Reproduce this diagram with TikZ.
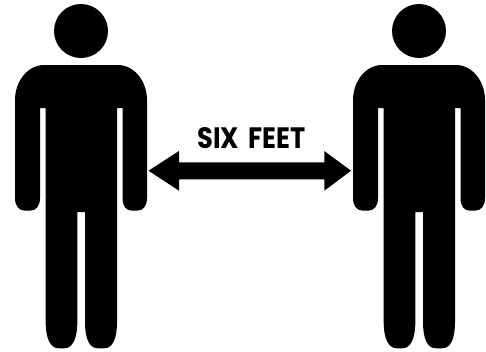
\documentclass[tikz,border=0pt]{standalone}
\usepackage{fontspec}
\setmainfont[WordSpace=1.7]{Poppins}
\tikzset{
  shapefill/.style={fill=black,draw=none},
  person/.pic={
    \fill[shapefill] (81,31) circle (27);
    \fill[shapefill]
      (44,65) -- (118,65)
      .. controls (134,65) and (147,81) .. (147,100)
      -- (147,198)
      .. controls (147,206) and (143,210.7) .. (137,210.7)
      -- (132,210.7)
      .. controls (126,210.7) and (122.5,206) .. (122.5,198)
      -- (122.5,108) -- (117,108)
      -- (117,322)
      .. controls (117,338) and (113,348.3) .. (104,348.3)
      -- (98,348.3)
      .. controls (89,348.3) and (85,338) .. (85,322)
      -- (85,212) -- (77.3,212)
      -- (77.3,322)
      .. controls (77.3,338) and (73,348.3) .. (64,348.3)
      -- (59,348.3)
      .. controls (50,348.3) and (45.7,338) .. (45.7,322)
      -- (45.7,108) -- (40,108)
      -- (40,198)
      .. controls (40,206) and (36,210.7) .. (30,210.7)
      -- (25,210.7)
      .. controls (19,210.7) and (15,206) .. (15,198)
      -- (15,100)
      .. controls (15,81) and (28,65) .. (44,65) -- cycle;
  }
}
\begin{document}
\begin{tikzpicture}[x=1pt,y=-1pt]
\useasboundingbox (0,0) rectangle (486,351);
\pic at (0,0) {person};
\pic at (338,0) {person};
\fill[shapefill] (148.5,170.7) -- (179,151) -- (179,162.3) -- (324.3,162.3) -- (324.3,151) -- (351,170.7) -- (324.3,190.7) -- (324.3,179.3) -- (179,179.3) -- (179,190.7) -- cycle;
\node[inner sep=0pt,anchor=center] (label) at (251.5,138.5) {\resizebox{108pt}{21pt}{\bfseries SIX FEET}};
\end{tikzpicture}
\end{document}
